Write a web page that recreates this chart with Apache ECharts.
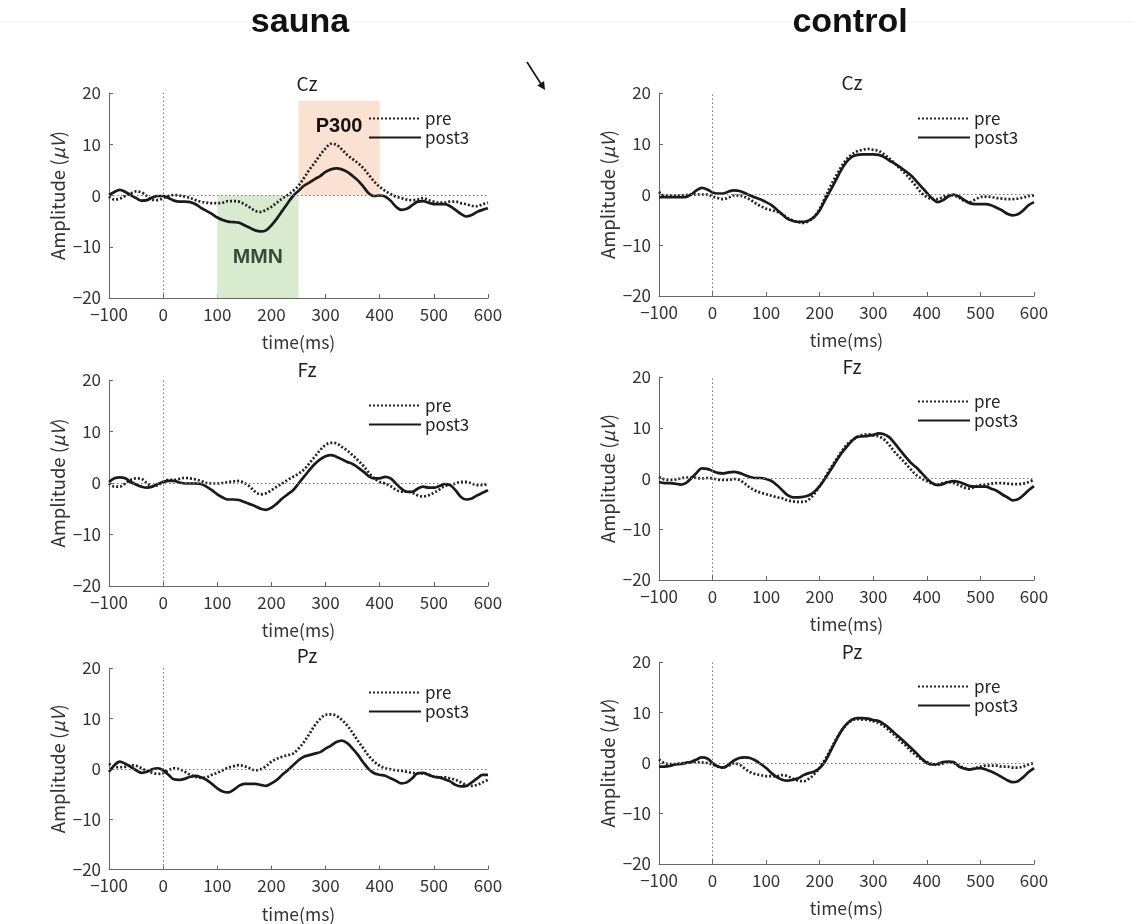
<!DOCTYPE html>
<html>
<head>
<meta charset="utf-8">
<script src="https://cdn.jsdelivr.net/npm/echarts@6/dist/echarts.min.js"></script>
<style>
html,body{margin:0;padding:0;background:#fff;}
#chart{width:1134px;height:924px;}
</style>
</head>
<body>
<div id="chart"></div>
<script>
// time axis (ms)
var times = [-100,-90,-80,-70,-60,-50,-40,-30,-20,-10,0,10,20,30,40,50,60,70,80,90,100,110,120,130,140,150,160,170,180,190,200,210,220,230,240,250,260,270,280,290,300,310,320,330,340,350,360,370,380,390,400,410,420,430,440,450,460,470,480,490,500,510,520,530,540,550,560,570,580,590,600];
var xTicks = [-100,0,100,200,300,400,500,600];
var yTicks = [-20,-10,0,10,20];
var groups = ['sauna','control'];
var electrodes = ['Cz','Fz','Pz'];
var seriesNames = ['pre','post3'];

// sauna Cz
var saunaCzPre = [-0.2,-0.8,-0.6,-0.1,0.4,0.8,0.6,-0.1,-0.8,-0.9,-0.5,-0.1,0.1,0.0,-0.2,-0.5,-0.9,-1.2,-1.4,-1.5,-1.5,-1.4,-1.1,-1.1,-1.2,-1.7,-2.3,-3.0,-3.2,-2.8,-2.2,-1.4,-0.6,0.1,0.9,1.9,3.4,5.0,6.4,7.9,9.2,10.1,9.9,9.0,7.9,7.1,6.3,5.3,4.0,2.7,1.7,0.9,0.3,-0.2,-0.5,-0.8,-0.9,-0.8,-0.5,-0.9,-1.2,-1.4,-1.4,-1.2,-1.2,-1.5,-1.7,-2.0,-2.1,-1.7,-1.4];
var saunaCzPost = [0.1,0.7,1.1,0.7,0.1,-0.5,-1.0,-0.9,-0.4,-0.1,-0.1,-0.5,-1.0,-1.2,-1.2,-1.3,-1.7,-2.4,-3.0,-3.6,-4.3,-4.8,-5.1,-5.2,-5.3,-5.8,-6.3,-6.8,-7.0,-6.8,-5.8,-4.5,-3.0,-1.5,-0.1,0.9,1.9,2.5,3.2,3.8,4.6,5.1,5.3,5.1,4.6,3.8,2.9,1.7,0.4,-0.1,0.0,-0.2,-1.0,-2.2,-2.8,-2.6,-1.9,-1.2,-1.1,-1.4,-1.7,-1.7,-1.7,-2.1,-2.8,-3.6,-4.1,-3.8,-3.2,-2.8,-2.5];
// control Cz
var controlCzPre = [0.5,-0.2,-0.2,-0.2,-0.2,-0.1,0,0,0,0,-0.4,-0.7,-0.9,-0.6,-0.2,-0.2,-0.5,-1.0,-1.7,-2.3,-2.8,-3.1,-3.4,-3.9,-4.6,-5.1,-5.4,-5.6,-5.2,-4.4,-2.8,-0.6,1.6,3.6,5.4,6.9,7.9,8.5,8.8,9.0,8.8,8.6,7.9,7.1,6.1,5.1,4.1,2.9,1.6,0.3,-0.5,-0.9,-0.9,-0.5,-0.1,-0.2,-0.6,-1.3,-1.5,-1.0,-0.5,-0.4,-0.5,-0.7,-0.8,-0.9,-0.9,-0.8,-0.6,-0.3,-0.2];
var controlCzPost = [-0.5,-0.5,-0.5,-0.5,-0.5,-0.5,0,0.8,1.3,1.0,0.4,0.2,0.2,0.6,0.8,0.7,0.3,-0.2,-0.6,-1.0,-1.5,-2.1,-3.0,-3.9,-4.8,-5.2,-5.4,-5.4,-5.1,-4.4,-3.1,-1.1,0.8,2.8,4.8,6.4,7.4,7.8,7.9,7.9,7.9,7.8,7.4,6.7,6.1,5.4,4.6,3.8,2.7,1.5,0.3,-0.8,-1.5,-1.1,-0.4,0,-0.4,-1.1,-1.7,-1.9,-1.9,-1.9,-2.1,-2.6,-3.1,-3.8,-4.1,-3.9,-3.1,-2.1,-1.5];
// sauna Fz
var saunaFzPre = [-0.1,-0.7,-0.7,-0.1,0.6,0.9,0.8,0,-0.6,-0.4,0.2,0.6,0.6,0.8,1.0,0.9,0.7,0.4,0,-0.1,-0.1,0,0.2,0.3,0.4,0,-0.7,-1.7,-2.2,-2.0,-1.4,-0.7,-0.1,0.6,1.2,1.8,2.6,3.8,5.1,6.4,7.4,7.8,7.7,7.0,6.3,5.4,4.4,3.3,2.0,0.9,0.2,-0.1,-0.6,-1.3,-1.7,-1.7,-1.9,-2.4,-2.6,-2.4,-1.9,-1.3,-0.6,-0.4,-0.1,0.2,0.2,-0.1,-0.4,-0.4,-0.1];
var saunaFzPost = [0.2,0.9,1.1,0.9,0.2,-0.3,-0.7,-0.9,-0.7,-0.2,0.2,0.4,0.4,0.1,-0.1,-0.1,-0.1,-0.2,-0.7,-1.4,-2.2,-2.8,-3.2,-3.2,-3.3,-3.7,-4.1,-4.5,-5.0,-5.2,-4.8,-4.0,-3.0,-2.2,-1.4,-0.1,1.2,2.5,3.7,4.6,5.2,5.4,5.1,4.6,4.1,3.7,3.0,2.2,1.3,0.9,0.9,1.2,0.9,-0.1,-1.1,-1.7,-1.7,-1.1,-0.7,-0.9,-0.9,-0.6,-0.2,-0.4,-1.4,-2.7,-3.2,-3.0,-2.4,-1.9,-1.4];
// control Fz
var controlFzPre = [0.3,-0.2,-0.3,-0.2,0,0.2,0.2,0.1,0,0.1,0,-0.2,-0.3,-0.3,-0.1,-0.3,-1.0,-1.8,-2.4,-2.8,-3.1,-3.4,-3.7,-3.9,-4.3,-4.5,-4.6,-4.6,-4.1,-3.0,-1.5,0.2,2.0,3.6,5.2,6.6,7.5,8.2,8.6,8.7,8.5,8.3,7.7,6.6,5.2,4.1,3.0,1.8,0.7,0,-0.5,-1.0,-1.2,-0.9,-0.7,-0.9,-1.3,-1.8,-2.0,-1.6,-1.3,-1.2,-1.0,-0.9,-0.9,-1.0,-1.1,-1.1,-1.0,-0.7,-0.2];
var controlFzPost = [-0.7,-0.9,-0.9,-1.0,-1.2,-0.9,0,1.1,2.0,1.9,1.5,1.1,1.0,1.2,1.3,1.1,0.7,0.3,0.1,0.1,-0.1,-0.5,-1.3,-2.3,-3.3,-3.7,-3.7,-3.6,-3.3,-2.6,-1.5,0,1.6,3.3,4.9,6.2,7.4,8.2,8.3,8.4,8.6,8.9,8.7,8.1,6.9,5.6,4.3,3.1,2.2,1.1,0,-0.9,-1.3,-1.1,-0.7,-0.5,-0.7,-1.1,-1.5,-1.6,-1.6,-1.6,-2.0,-2.4,-3.1,-3.7,-4.3,-4.1,-3.3,-2.3,-1.5];
// sauna Pz
var saunaPzPre = [1.0,0.4,0.3,0.4,0.7,0.6,0.1,-0.4,-0.8,-1.0,-0.9,-0.3,0.1,-0.1,-0.6,-1.2,-1.6,-1.8,-1.7,-1.2,-0.8,-0.3,0.2,0.5,0.7,0.5,0.1,-0.3,-0.1,0.5,1.4,2.0,2.4,2.7,3.0,4.0,5.3,6.9,8.6,9.9,10.7,10.8,10.5,9.7,8.6,7.1,5.5,4.0,2.5,1.4,0.6,0.1,-0.1,-0.3,-0.4,-0.6,-0.8,-0.9,-0.9,-1.2,-1.6,-1.7,-1.7,-1.9,-2.2,-2.7,-3.2,-3.4,-3.2,-2.7,-2.2];
var saunaPzPost = [-0.6,0.7,1.4,1.0,0.4,-0.3,-0.8,-0.6,-0.1,0.1,-0.3,-1.2,-2.1,-2.2,-2.0,-1.6,-1.4,-1.7,-2.2,-3.0,-3.9,-4.5,-4.7,-4.2,-3.4,-3.0,-3.0,-3.0,-3.2,-3.4,-2.9,-2.2,-1.2,-0.3,0.7,1.7,2.4,2.7,3.0,3.3,4.0,4.6,5.3,5.6,5.1,4.0,2.7,1.2,-0.1,-0.9,-1.2,-1.4,-1.9,-2.4,-2.9,-2.7,-1.9,-0.9,-0.8,-1.2,-1.6,-1.7,-2.1,-2.5,-3.2,-3.5,-3.4,-2.7,-1.9,-1.2,-1.2];
// control Pz
var controlPzPre = [0.7,0,-0.2,-0.2,-0.1,0.1,0.2,0.2,0.1,0,-0.3,-0.7,-0.9,-0.5,-0.1,-0.3,-1.1,-1.8,-2.2,-2.4,-2.6,-2.6,-2.6,-2.4,-2.6,-3.1,-3.5,-3.6,-3.1,-2.2,-0.9,0.7,2.6,4.6,6.3,7.6,8.4,8.7,8.6,8.5,8.3,7.9,7.3,6.4,5.5,4.4,3.5,2.4,1.5,0.7,0.2,-0.2,-0.3,-0.1,0.2,0,-0.5,-1.0,-1.3,-1.0,-0.7,-0.5,-0.5,-0.5,-0.7,-0.7,-0.9,-0.9,-0.7,-0.3,0];
var controlPzPost = [-0.7,-0.7,-0.6,-0.3,-0.2,0,0.2,0.7,1.1,0.9,0,-0.7,-0.9,-0.3,0.5,1.0,1.1,1.0,0.5,-0.2,-1.0,-2.0,-2.8,-3.3,-3.5,-3.3,-3.0,-2.4,-2.0,-1.7,-1.0,0.3,2.3,4.4,6.3,7.7,8.6,8.9,8.9,8.8,8.5,8.3,7.7,6.9,5.9,5.0,4.0,3.0,2.0,0.9,0,-0.3,-0.2,0.2,0.3,0.2,-0.7,-1.1,-1.3,-1.1,-1.0,-1.3,-1.7,-2.2,-2.8,-3.4,-3.8,-3.6,-2.8,-1.8,-1.0];

var panelData = [
  [saunaCzPre, saunaCzPost], [controlCzPre, controlCzPost],
  [saunaFzPre, saunaFzPost], [controlFzPre, controlFzPost],
  [saunaPzPre, saunaPzPost], [controlPzPre, controlPzPost]
];

var FONT = '"Noto Sans CJK JP", "Noto Sans", sans-serif';
var HEAD = '"Liberation Sans", Arial, sans-serif';
var grids = [
  {left:109, top:93,  width:379, height:205},
  {left:659, top:93,  width:375, height:203},
  {left:109, top:380, width:379, height:206},
  {left:659, top:377, width:375, height:203},
  {left:109, top:668, width:379, height:204},
  {left:659, top:662, width:375, height:202}
];
var titleCenters = [[302,81],[847,80],[302,367],[847,364],[302,653],[847,649]];
var legendPos = [[368,110],[917,110],[368,397],[917,393],[368,684],[917,678]];

function fmt(v){ return v < 0 ? '\u2212' + (-v) : String(v); }

var xAxes = [], yAxes = [], series = [], titles = [], legends = [];
grids.forEach(function(g, i){
  xAxes.push({
    type:'value', gridIndex:i, min:xTicks[0], max:xTicks[xTicks.length-1], interval:100,
    name:'time(ms)', nameLocation:'middle', nameGap:36,
    nameTextStyle:{fontFamily:FONT, fontSize:17.5, color:'#333'},
    axisLine:{show:true, onZero:false, lineStyle:{color:'#666', width:1}},
    axisTick:{show:true, inside:true, length:4, lineStyle:{color:'#666'}},
    axisLabel:{fontFamily:FONT, fontSize:17, color:'#333', margin:8, formatter:fmt},
    splitLine:{show:false}
  });
  yAxes.push({
    type:'value', gridIndex:i, min:yTicks[0], max:yTicks[yTicks.length-1], interval:10,
    name:'Amplitude ({i|\u03bcV})', nameLocation:'middle', nameGap:42,
    nameTextStyle:{fontFamily:FONT, fontSize:18.5, color:'#333',
      rich:{i:{fontFamily:FONT, fontSize:18.5, fontStyle:'italic', color:'#333'}}},
    axisLine:{show:true, onZero:false, lineStyle:{color:'#666', width:1}},
    axisTick:{show:true, inside:true, length:4, lineStyle:{color:'#666'}},
    axisLabel:{fontFamily:FONT, fontSize:17, color:'#333', margin:8, formatter:fmt},
    splitLine:{show:false}
  });
  titles.push({
    text: electrodes[Math.floor(i/2)], left: titleCenters[i][0], top: titleCenters[i][1]-12, textAlign:'center',
    textStyle:{fontFamily:FONT, fontSize:19, fontWeight:'normal', color:'#222'}
  });
  legends.push({
    data: seriesNames, orient:'vertical', left: legendPos[i][0], top: legendPos[i][1],
    itemWidth:52, itemHeight:14, itemGap:2, padding:0,
    itemStyle:{opacity:0},
    textStyle:{fontFamily:FONT, fontSize:17, color:'#222', padding:[0,0,0,-1]}
  });
  var d = panelData[i];
  var pre = {
    name:'pre', type:'line', xAxisIndex:i, yAxisIndex:i, showSymbol:false, symbol:'none', smooth:0.35,
    lineStyle:{color:'#222', width:2.7, type:[2,2], cap:'butt'}, itemStyle:{color:'#222'},
    data: times.map(function(t,k){ return [t, d[0][k]]; }), z:3
  };
  var post = {
    name:'post3', type:'line', xAxisIndex:i, yAxisIndex:i, showSymbol:false, symbol:'none', smooth:0.35,
    lineStyle:{color:'#1a1a1a', width:2.7}, itemStyle:{color:'#1a1a1a'},
    data: times.map(function(t,k){ return [t, d[1][k]]; }), z:4,
    markLine:{
      silent:true, symbol:['none','none'], label:{show:false}, animation:false,
      lineStyle:{color:'#777', width:1, type:[1.5,2.5]},
      data:[{yAxis:0},{xAxis:0}]
    }
  };
  if (i === 0) {
    pre.markArea = {
      silent:true, animation:false,
      data:[
        [{xAxis:100, yAxis:-20, itemStyle:{color:'#d9ebcf'},
          label:{show:true, position:'inside', offset:[0,10], formatter:'MMN', fontFamily:HEAD, fontSize:21, fontWeight:'bold', color:'#3b4a37'}},
         {xAxis:250, yAxis:0}],
        [{xAxis:250, yAxis:0, itemStyle:{color:'#fbe1d2'},
          label:{show:true, position:'insideTop', distance:16, formatter:'P300', fontFamily:HEAD, fontSize:20, fontWeight:'bold', color:'#111'}},
         {xAxis:400, yAxis:18.5}]
      ]
    };
  }
  series.push(pre, post);
});

var chart = echarts.init(document.getElementById('chart'), null, {renderer:'canvas'});
chart.setOption({
  backgroundColor:'#fff',
  animation:false,
  grid: grids,
  xAxis: xAxes,
  yAxis: yAxes,
  title: titles,
  legend: legends,
  series: series,
  graphic: [
    {type:'line', shape:{x1:0, y1:22, x2:1134, y2:22}, style:{stroke:'#f2f2f2', lineWidth:1}, silent:true, z:-1},
    {type:'text', x:300, y:23, style:{text:groups[0], font:'bold 34px "Liberation Sans", Arial, sans-serif', textAlign:'center', textVerticalAlign:'middle', fill:'#111'}},
    {type:'text', x:850, y:23, style:{text:groups[1], font:'bold 34px "Liberation Sans", Arial, sans-serif', textAlign:'center', textVerticalAlign:'middle', fill:'#111'}},
    {type:'line', shape:{x1:527, y1:62, x2:541, y2:84}, style:{stroke:'#111', lineWidth:1.6}, silent:true},
    {type:'polygon', shape:{points:[[545,90],[537.3,85.5],[544.1,81.1]]}, style:{fill:'#111'}, silent:true}
  ]
});
</script>
</body>
</html>
